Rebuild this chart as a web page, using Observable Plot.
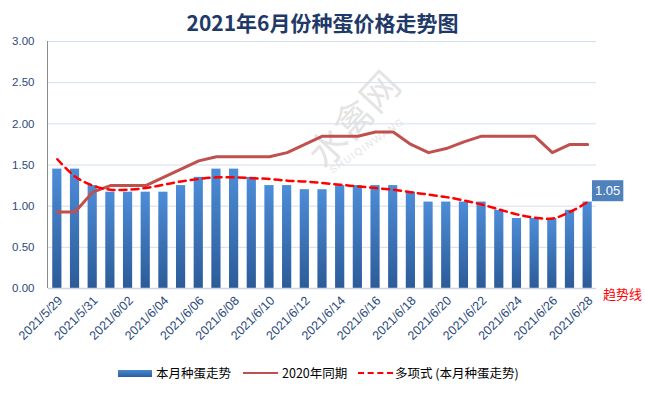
<!DOCTYPE html>
<html>
<head>
<meta charset="utf-8">
<script src="https://cdn.jsdelivr.net/npm/d3@7"></script>
<script src="https://cdn.jsdelivr.net/npm/@observablehq/plot@0.6"></script>
<style>
  html, body { margin: 0; padding: 0; background: #fff; }
  #wrap { position: relative; width: 645px; height: 394px; overflow: hidden; font-family: "Noto Sans CJK SC", "Liberation Sans", sans-serif; }
  #title { position: absolute; left: 0; top: 7px; width: 645px; text-align: center; font-size: 21px; font-weight: bold; color: #1f3a68; line-height: 30px; }
  #chart { position: absolute; left: 0; top: 30px; }
  .wm { position: absolute; color: #a0a0a0; opacity: 0.28; white-space: nowrap; transform-origin: center center; }
  .leg { position: absolute; font-size: 12.5px; color: #000; line-height: 16px; white-space: nowrap; }
  .sw { position: absolute; }
  #trendnote { position: absolute; left: 603px; top: 284px; font-size: 13px; color: #ff0000; }
</style>
</head>
<body>
<div id="wrap">
  <div id="title">2021年6月份种蛋价格走势图</div>
  <div class="wm" style="left:290px; top:90px; width:124px; text-align:center; font-size:38px; transform: rotate(-47deg);">水禽网</div>
  <div class="wm" style="left:312px; top:140px; width:110px; text-align:center; font-size:10px; letter-spacing:1.5px; font-family:'Liberation Sans'; transform: rotate(-35deg);">SHUIQINWANG</div>
  <div id="chart"></div>
  <div id="trendnote">趋势线</div>
  <div class="sw" style="left:118px; top:370px; width:34px; height:7px; background: linear-gradient(#4a88d2, #2d5e9c);"></div>
  <div class="leg" style="left:156px; top:365px;">本月种蛋走势</div>
  <div class="sw" style="left:243px; top:372px; width:35px; height:0; border-top: 2.5px solid #c0504d;"></div>
  <div class="leg" style="left:282px; top:365px;">2020年同期</div>
  <div class="sw" style="left:358px; top:372px; width:35px; height:0; border-top: 2.5px dashed #ff0000;"></div>
  <div class="leg" style="left:395px; top:365px;">多项式 (本月种蛋走势)</div>
</div>
<script>
const dates = ["2021/5/29","2021/5/30","2021/5/31","2021/6/01","2021/6/02","2021/6/03","2021/6/04","2021/6/05","2021/6/06","2021/6/07","2021/6/08","2021/6/09","2021/6/10","2021/6/11","2021/6/12","2021/6/13","2021/6/14","2021/6/15","2021/6/16","2021/6/17","2021/6/18","2021/6/19","2021/6/20","2021/6/21","2021/6/22","2021/6/23","2021/6/24","2021/6/25","2021/6/26","2021/6/27","2021/6/28"];
const thisMonth = [1.45,1.45,1.25,1.17,1.17,1.17,1.17,1.25,1.35,1.45,1.45,1.35,1.25,1.25,1.20,1.20,1.25,1.25,1.25,1.25,1.17,1.05,1.05,1.05,1.05,0.95,0.85,0.85,0.85,0.95,1.05];
const lastYear = [0.93,0.93,1.17,1.25,1.25,1.25,1.35,1.45,1.55,1.60,1.60,1.60,1.60,1.65,1.75,1.85,1.85,1.85,1.90,1.90,1.75,1.65,1.70,1.78,1.85,1.85,1.85,1.85,1.65,1.75,1.75];
const trend = [1.57,1.36,1.25,1.20,1.20,1.22,1.26,1.30,1.33,1.35,1.35,1.34,1.33,1.31,1.30,1.28,1.26,1.24,1.22,1.20,1.17,1.14,1.11,1.07,1.02,0.96,0.90,0.86,0.85,0.93,1.05];
const yTicks = [0, 0.5, 1, 1.5, 2, 2.5, 3];
const xTicks = dates.filter((d, i) => i % 2 === 0);

const rows = dates.map((d, i) => ({date: d, cur: thisMonth[i], prev: lastYear[i], trend: trend[i]}));
const lastRow = rows[rows.length - 1];

const navy = "#2b4a7c";
const chart = Plot.plot({
  width: 645,
  height: 330,
  marginTop: 11,
  marginBottom: 72,
  marginLeft: 48,
  marginRight: 49,
  style: {fontFamily: "'Liberation Sans', sans-serif", fontSize: "11px", color: navy, background: "transparent"},
  x: {type: "band", domain: dates, paddingInner: 0.48, paddingOuter: 0.24, round: false},
  y: {domain: [0, 3]},
  marks: [
    Plot.gridY(yTicks, {stroke: "#d3deec", strokeOpacity: 1, strokeWidth: 1}),
    Plot.barY(rows, {x: "date", y: "cur", fill: "url(#barGrad)"}),
    Plot.ruleY([0], {stroke: "#d0d7e2", strokeWidth: 1.5}),
    Plot.lineY(rows, {x: "date", y: "prev", stroke: "#c0504d", strokeWidth: 3}),
    Plot.lineY(rows, {x: "date", y: "trend", stroke: "#ff0000", strokeWidth: 2.5, strokeDasharray: "7,5", curve: "catmull-rom"}),
    Plot.axisY({ticks: yTicks, tickFormat: d3.format(".2f"), tickSize: 0, tickPadding: 14, fontSize: 11.5, fill: navy, label: null}),
    Plot.axisX({ticks: xTicks, tickSize: 0, tickPadding: 10, tickRotate: -45, fontSize: 12.5, dx: 3, fill: navy, label: null}),
    Plot.text([lastRow], {x: "date", y: "cur", text: d => d.cur.toFixed(2), dx: 20, dy: -11, fill: "white", fontSize: 13, className: "dlabel"})
  ]
});

document.getElementById("chart").appendChild(chart);

const svg = d3.select(chart);
const defs = svg.insert("defs", ":first-child");
const g = defs.append("linearGradient").attr("id", "barGrad").attr("x1", 0).attr("y1", 0).attr("x2", 0).attr("y2", 1);
g.append("stop").attr("offset", "0%").attr("stop-color", "#4d8dd8");
g.append("stop").attr("offset", "100%").attr("stop-color", "#2c5b98");

// left axis line at the plot's left edge
svg.append("line")
  .attr("x1", 47.5).attr("x2", 47.5)
  .attr("y1", 11).attr("y2", 330 - 72)
  .attr("stroke", "#8c8c8c").attr("stroke-width", 1);

// data label box behind the label
const lab = chart.querySelector(".dlabel text");
if (lab) {
  const bb = lab.getBBox();
  const tr = lab.getAttribute("transform");
  const rect = document.createElementNS("http://www.w3.org/2000/svg", "rect");
  rect.setAttribute("x", bb.x - 3);
  rect.setAttribute("y", bb.y - 3);
  rect.setAttribute("width", bb.width + 6);
  rect.setAttribute("height", bb.height + 6);
  rect.setAttribute("fill", "#4f81bd");
  if (tr) rect.setAttribute("transform", tr);
  lab.parentNode.insertBefore(rect, lab);
}
</script>
</body>
</html>
